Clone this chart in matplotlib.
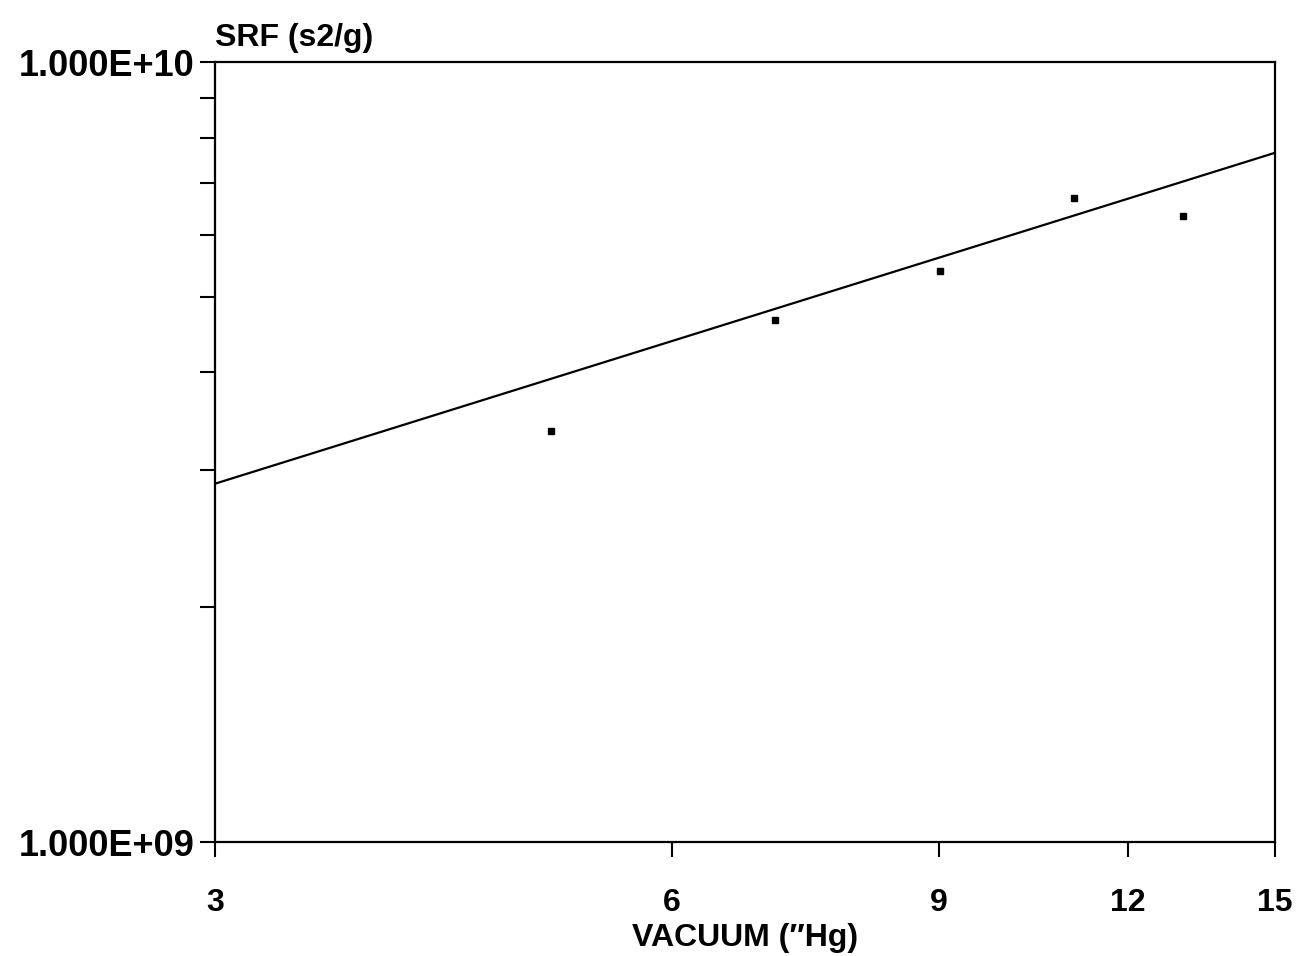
import matplotlib.pyplot as plt
from matplotlib.ticker import FixedLocator, NullFormatter

# measured points
vacuum = [5.0, 7.02, 9.02, 11.05, 13.05]
srf = [3.36e9, 4.67e9, 5.40e9, 6.69e9, 6.35e9]

# fitted line end points
fit_x = [3, 15]
fit_y = [2.88e9, 7.65e9]

x_ticks = [3, 6, 9, 12, 15]
y_major = [1e9, 1e10]
y_labels = ['1.000E+09', '1.000E+10']
y_minor = [2e9, 3e9, 4e9, 5e9, 6e9, 7e9, 8e9, 9e9]

plt.rcParams['font.family'] = ['Liberation Sans', 'DejaVu Sans']
plt.rcParams['font.weight'] = 'bold'

fig = plt.figure(figsize=(13.1, 9.56), dpi=100)
ax = fig.add_axes([0.1641, 0.1192, 0.8092, 0.8159])

ax.plot(fit_x, fit_y, color='black', lw=1.6)
ax.plot(vacuum, srf, 's', color='black', ms=5, ls='none')

ax.set_xscale('log')
ax.set_yscale('log')
ax.set_xlim(3, 15)
ax.set_ylim(1e9, 1e10)

ax.xaxis.set_major_locator(FixedLocator(x_ticks))
ax.xaxis.set_minor_locator(FixedLocator([]))
ax.set_xticklabels([str(t) for t in x_ticks])
ax.yaxis.set_major_locator(FixedLocator(y_major))
ax.set_yticklabels(y_labels)
ax.yaxis.set_minor_locator(FixedLocator(y_minor))
ax.yaxis.set_minor_formatter(NullFormatter())

ax.tick_params(axis='both', which='both', direction='out', width=1.5,
               length=11, colors='black')
ax.tick_params(axis='x', pad=22, labelsize=23)
ax.tick_params(axis='y', pad=4, labelsize=26)
for s in ax.spines.values():
    s.set_linewidth(1.6)

ax.text(0.0, 1.012, 'SRF (s2/g)', transform=ax.transAxes, fontsize=23,
        fontweight='bold', ha='left', va='bottom')
ax.set_xlabel('VACUUM (\u2033Hg)', fontsize=23, fontweight='bold', labelpad=4)

fig.savefig('out.png', dpi=100)
